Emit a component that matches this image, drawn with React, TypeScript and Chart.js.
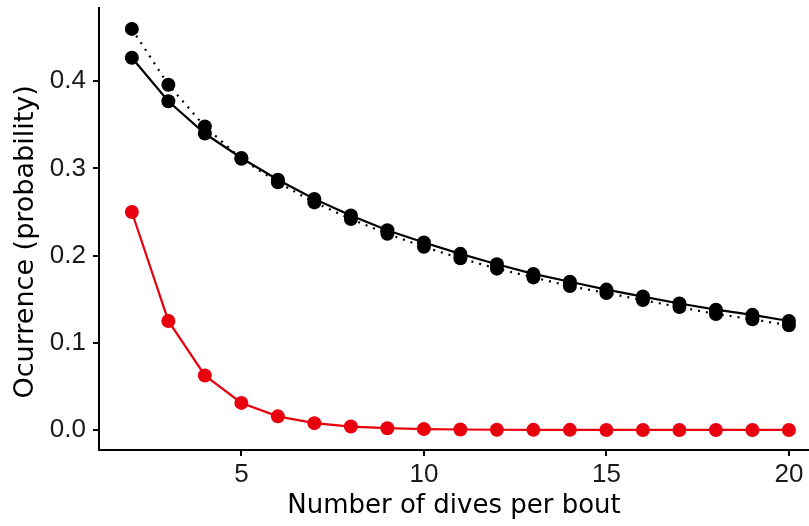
import React, { useEffect, useRef } from "react";
import { Chart, registerables } from "chart.js";

Chart.register(...registerables);

const divesPerBout = [2, 3, 4, 5, 6, 7, 8, 9, 10, 11, 12, 13, 14, 15, 16, 17, 18, 19, 20];
const solidSeries = [0.427, 0.377, 0.340, 0.312, 0.287, 0.265, 0.246, 0.229, 0.215, 0.202, 0.190, 0.179, 0.170, 0.161, 0.153, 0.145, 0.138, 0.132, 0.125];
const dottedSeries = [0.460, 0.396, 0.348, 0.311, 0.284, 0.261, 0.242, 0.225, 0.210, 0.197, 0.185, 0.175, 0.165, 0.157, 0.149, 0.141, 0.133, 0.127, 0.120];
const redSeries = [0.25, 0.125, 0.0625, 0.031, 0.0156, 0.0078, 0.0039, 0.002, 0.001, 0.0005, 0.0002, 0.0001, 0.0001, 0, 0, 0, 0, 0, 0];
const xTicks = [5, 10, 15, 20];
const yTicks = [0, 0.1, 0.2, 0.3, 0.4];

const RED = "#e8000e";

export default function App() {
  const ref = useRef<HTMLCanvasElement | null>(null);

  useEffect(() => {
    if (!ref.current) return;
    const toPts = (ys: number[]) => divesPerBout.map((x, i) => ({ x, y: ys[i] }));
    const noPad = (s: any) => {
      s.paddingTop = 0;
      s.paddingBottom = 0;
      s.paddingLeft = 0;
      s.paddingRight = 0;
    };
    const chart = new Chart(ref.current, {
      type: "line",
      data: {
        datasets: [
          {
            data: toPts(dottedSeries),
            borderColor: "#000",
            backgroundColor: "#000",
            borderWidth: 2.2,
            borderDash: [2, 6],
            pointRadius: 7,
            pointBorderWidth: 0,
            tension: 0,
          },
          {
            data: toPts(solidSeries),
            borderColor: "#000",
            backgroundColor: "#000",
            borderWidth: 2.2,
            pointRadius: 7,
            pointBorderWidth: 0,
            tension: 0,
          },
          {
            data: toPts(redSeries),
            borderColor: RED,
            backgroundColor: RED,
            borderWidth: 2.2,
            pointRadius: 7,
            pointBorderWidth: 0,
            tension: 0,
          },
        ],
      },
      options: {
        responsive: false,
        animation: false,
        events: [],
        layout: { autoPadding: false, padding: { top: 8, right: 0, left: 0, bottom: 0 } },
        plugins: { legend: { display: false }, tooltip: { enabled: false } },
        scales: {
          x: {
            type: "linear",
            min: 1.1,
            max: 20.55,
            afterBuildTicks: (s: any) => {
              s.ticks = xTicks.map((v) => ({ value: v }));
            },
            afterFit: (s: any) => {
              s.height = 76;
              noPad(s);
            },
            border: { display: true, color: "#000", width: 2 },
            grid: { display: true, drawOnChartArea: false, drawTicks: true, tickLength: 6, color: "#000", lineWidth: 2 },
            ticks: {
              color: "#1a1a1a",
              font: { family: "'Liberation Sans', Arial, sans-serif", size: 26 },
              padding: 3,
              maxRotation: 0,
              autoSkip: false,
            },
            title: {
              display: true,
              text: "Number of dives per bout",
              color: "#000",
              font: { family: "'DejaVu Sans', Verdana, sans-serif", size: 26 },
              padding: { top: 0, bottom: 4 },
            },
          },
          y: {
            type: "linear",
            min: -0.023,
            max: 0.484,
            afterBuildTicks: (s: any) => {
              s.ticks = yTicks.map((v) => ({ value: v }));
            },
            afterFit: (s: any) => {
              s.width = 99;
              noPad(s);
            },
            border: { display: true, color: "#000", width: 2 },
            grid: { display: true, drawOnChartArea: false, drawTicks: true, tickLength: 6, color: "#000", lineWidth: 2 },
            ticks: {
              color: "#1a1a1a",
              font: { family: "'Liberation Sans', Arial, sans-serif", size: 26 },
              padding: 7,
              autoSkip: false,
              callback: (v: any) => Number(v).toFixed(1),
            },
            title: {
              display: true,
              text: "Ocurrence (probability)   ",
              color: "#000",
              font: { family: "'DejaVu Sans', Verdana, sans-serif", size: 27 },
              padding: { top: 10, bottom: 0 },
            },
          },
        },
      },
    });
    return () => chart.destroy();
  }, []);

  return (
    <div style={{ position: "fixed", left: 0, top: 0, width: 809, height: 526, background: "#fff" }}>
      <canvas ref={ref} width={809} height={526} style={{ display: "block" }} />
    </div>
  );
}
